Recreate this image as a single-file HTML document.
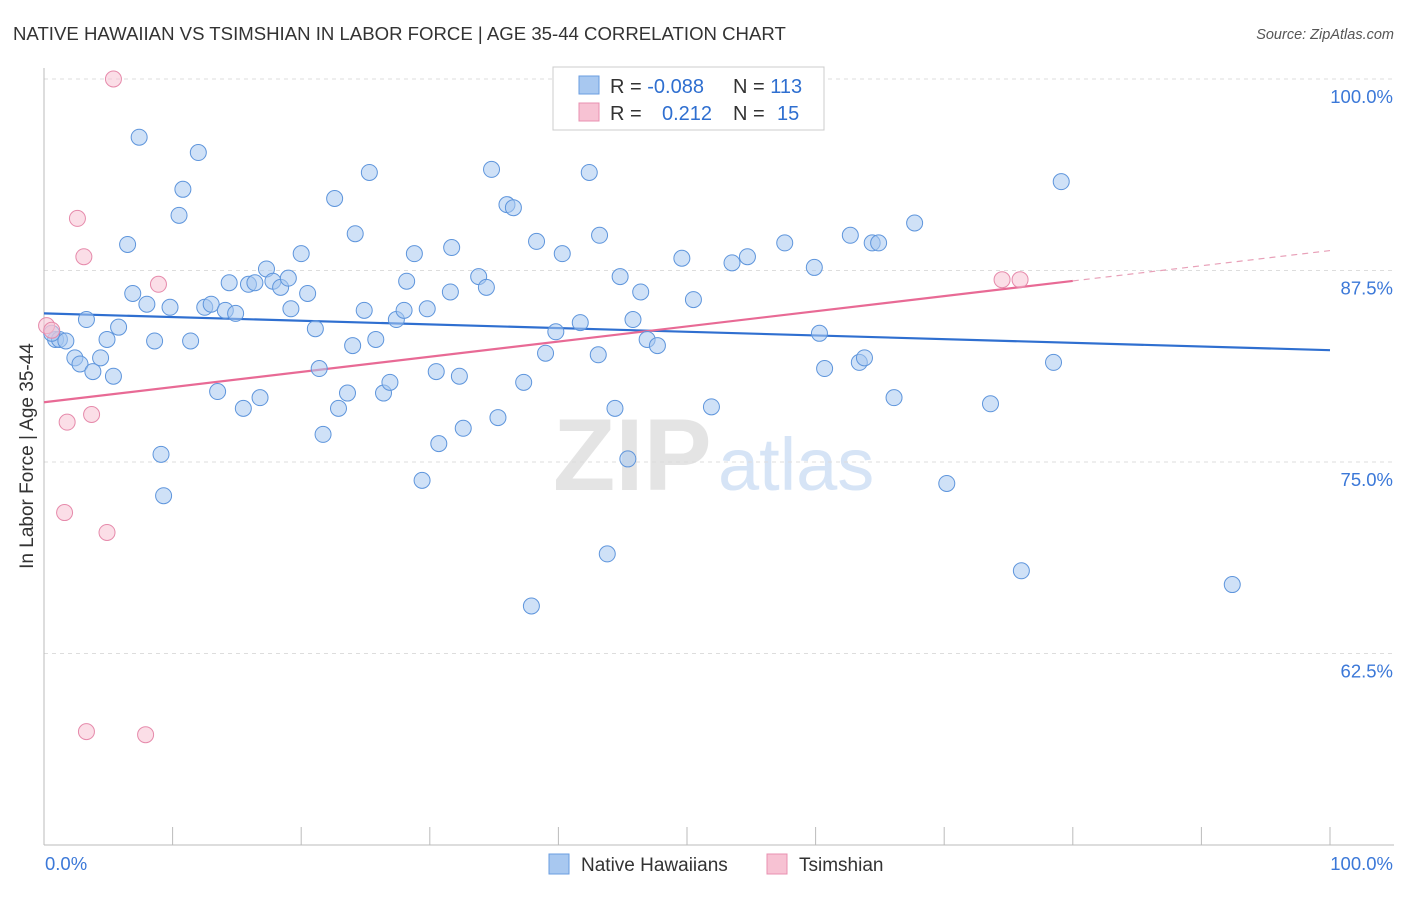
<!DOCTYPE html>
<html><head><meta charset="utf-8">
<style>
body{margin:0;background:#fff;font-family:"Liberation Sans",sans-serif;}
svg text{font-family:"Liberation Sans",sans-serif;}
</style></head>
<body>
<svg id="chart" width="1406" height="892">
<text x="13" y="40" font-size="18.6" fill="#333">NATIVE HAWAIIAN VS TSIMSHIAN IN LABOR FORCE | AGE 35-44 CORRELATION CHART</text>
<text x="1394" y="39" font-size="14.5" fill="#555" font-style="italic" text-anchor="end">Source: ZipAtlas.com</text>
<g>
<text x="553" y="490" font-size="102" fill="#e4e4e4" font-family="Liberation Serif" font-weight="bold">ZIP</text>
<text x="718" y="490" font-size="74" fill="#d6e4f6">atlas</text>
</g>
<g id="grid"></g>
<g id="axes"></g>
<g id="trends"></g>
<g id="points"></g>
<text x="33" y="456" font-size="19" fill="#333" text-anchor="middle" transform="rotate(-90 33 456)">In Labor Force | Age 35-44</text>
<g>
<rect x="553" y="67" width="271" height="63" fill="#fff" stroke="#ccc"/>
<rect x="579" y="76" width="20" height="18" fill="#a8c8f0" stroke="#6a9ee0"/>
<rect x="579" y="103" width="20" height="18" fill="#f7c2d3" stroke="#e890b0"/>
<text x="610" y="93" font-size="20" fill="#333">R = <tspan fill="#2f6fd0">-0.088</tspan><tspan x="733">N = </tspan><tspan fill="#2f6fd0">113</tspan></text>
<text x="610" y="120" font-size="20" fill="#333">R = <tspan x="662" fill="#2f6fd0">0.212</tspan><tspan x="733">N = </tspan><tspan x="777" fill="#2f6fd0">15</tspan></text>
</g>
<g>
<rect x="549" y="854" width="20" height="20" fill="#a8c8f0" stroke="#6a9ee0"/>
<text x="581" y="871" font-size="19" fill="#333">Native Hawaiians</text>
<rect x="767" y="854" width="20" height="20" fill="#f7c2d3" stroke="#e890b0"/>
<text x="799" y="871" font-size="19" fill="#333">Tsimshian</text>
</g>
</svg>
<script>
const blueX=[0.9,1.2,1.7,2.4,2.8,3.3,3.8,4.4,4.9,5.4,5.8,6.5,6.9,7.4,8.0,8.6,9.1,9.3,9.8,10.5,10.8,11.4,12.0,12.5,13.0,13.5,14.1,14.4,14.9,15.5,15.9,16.4,16.8,17.3,17.8,18.4,19.0,19.2,20.0,20.5,21.1,21.4,21.7,22.6,22.9,23.6,24.0,24.2,24.9,25.3,25.8,26.4,26.9,27.4,28.0,28.2,28.8,29.4,29.8,30.5,30.7,31.6,31.7,32.3,32.6,33.8,34.4,34.8,35.3,36.0,36.5,37.3,37.9,38.3,39.0,39.8,40.3,41.7,42.4,43.1,43.2,43.8,44.4,44.8,45.4,45.8,46.4,46.9,47.7,49.6,50.5,51.9,53.5,54.7,57.6,59.9,60.3,60.7,62.7,63.4,63.8,64.4,64.9,66.1,67.7,70.2,73.6,76.0,78.5,79.1,92.4,59.3,0.6];
const blueY=[83.0,83.0,82.9,81.8,81.4,84.3,80.9,81.8,83.0,80.6,83.8,89.2,86.0,96.2,85.3,82.9,75.5,72.8,85.1,91.1,92.8,82.9,95.2,85.1,85.3,79.6,84.9,86.7,84.7,78.5,86.6,86.7,79.2,87.6,86.8,86.4,87.0,85.0,88.6,86.0,83.7,81.1,76.8,92.2,78.5,79.5,82.6,89.9,84.9,93.9,83.0,79.5,80.2,84.3,84.9,86.8,88.6,73.8,85.0,80.9,76.2,86.1,89.0,80.6,77.2,87.1,86.4,94.1,77.9,91.8,91.6,80.2,65.6,89.4,82.1,83.5,88.6,84.1,93.9,82.0,89.8,69.0,78.5,87.1,75.2,84.3,86.1,83.0,82.6,88.3,85.6,78.6,88.0,88.4,89.3,87.7,83.4,81.1,89.8,81.5,81.8,89.3,89.3,79.2,90.6,73.6,78.8,67.9,81.5,93.3,67.0,100.0,83.4];
const pinkX=[0.2,0.6,1.8,1.6,2.6,3.1,3.7,4.9,5.4,8.9,3.3,7.9,74.5,75.9];
const pinkY=[83.9,83.6,77.6,71.7,90.9,88.4,78.1,70.4,100.0,86.6,57.4,57.2,86.9,86.9];
const blueTrend=[84.7,82.3];   // y at x=0 and x=100
const pinkTrend=[78.9,88.8];   // y at x=0 and x=100
const pinkSolidEnd=80;
const yTicks=[100,87.5,75,62.5];
const yTickLabels=["100.0%","87.5%","75.0%","62.5%"];
const xTicks=[0,10,20,30,40,50,60,70,80,90,100];

const NS="http://www.w3.org/2000/svg";
const sx=v=>44+v*12.86;
const sy=v=>79+(100-v)*15.32;
function mk(tag,attrs,parent){const e=document.createElementNS(NS,tag);for(const k in attrs)e.setAttribute(k,attrs[k]);document.getElementById(parent).appendChild(e);return e;}

yTicks.forEach((t,i)=>{
  const l=mk('line',{x1:44,x2:1394,y1:sy(t),y2:sy(t),stroke:'#ddd','stroke-dasharray':'4,4'},'grid');
  
  
  const tx=mk('text',{x:1393,y:sy(t)+24,'font-size':18.5,fill:'#3b78d8','text-anchor':'end'},'grid');
  tx.textContent=yTickLabels[i];
  
  
});
const ax=mk('line',{x1:44,x2:44,y1:68,y2:845,stroke:'#bbb'},'axes');


const bx=mk('line',{x1:44,x2:1394,y1:845,y2:845,stroke:'#bbb'},'axes');


xTicks.forEach(t=>{
  const l=mk('line',{x1:sx(t),x2:sx(t),y1:827,y2:845,stroke:'#bbb'},'axes');
  
  
});
const x0=mk('text',{x:45,y:870,'font-size':18.5,fill:'#3b78d8'},'axes');x0.textContent='0.0%';


const x1=mk('text',{x:1393,y:870,'font-size':18.5,fill:'#3b78d8','text-anchor':'end'},'axes');x1.textContent='100.0%';



function drawPts(X,Y,fill,stroke,name){
  X.forEach((x,i)=>{
    const c=mk('circle',{cx:sx(x),cy:sy(Y[i]),r:8,fill:fill,'fill-opacity':0.55,stroke:stroke,'stroke-width':1},'points');
    
    
  });
}
drawPts(blueX,blueY,'#a8c8f0','#5e95dc','native-hawaiian-point');
drawPts(pinkX,pinkY,'#f7c2d3','#e68aab','tsimshian-point');

const bt=mk('line',{x1:sx(0),y1:sy(blueTrend[0]),x2:sx(100),y2:sy(blueTrend[1]),stroke:'#2f6fd0','stroke-width':2.2},'trends');


const pAt=x=>pinkTrend[0]+(pinkTrend[1]-pinkTrend[0])*x/100;
const pt=mk('line',{x1:sx(0),y1:sy(pAt(0)),x2:sx(pinkSolidEnd),y2:sy(pAt(pinkSolidEnd)),stroke:'#e86a95','stroke-width':2.2},'trends');


const pd=mk('line',{x1:sx(pinkSolidEnd),y1:sy(pAt(pinkSolidEnd)),x2:sx(100),y2:sy(pAt(100)),stroke:'#e8a0b8','stroke-width':1.2,'stroke-dasharray':'6,5'},'trends');


</script>
</body></html>
